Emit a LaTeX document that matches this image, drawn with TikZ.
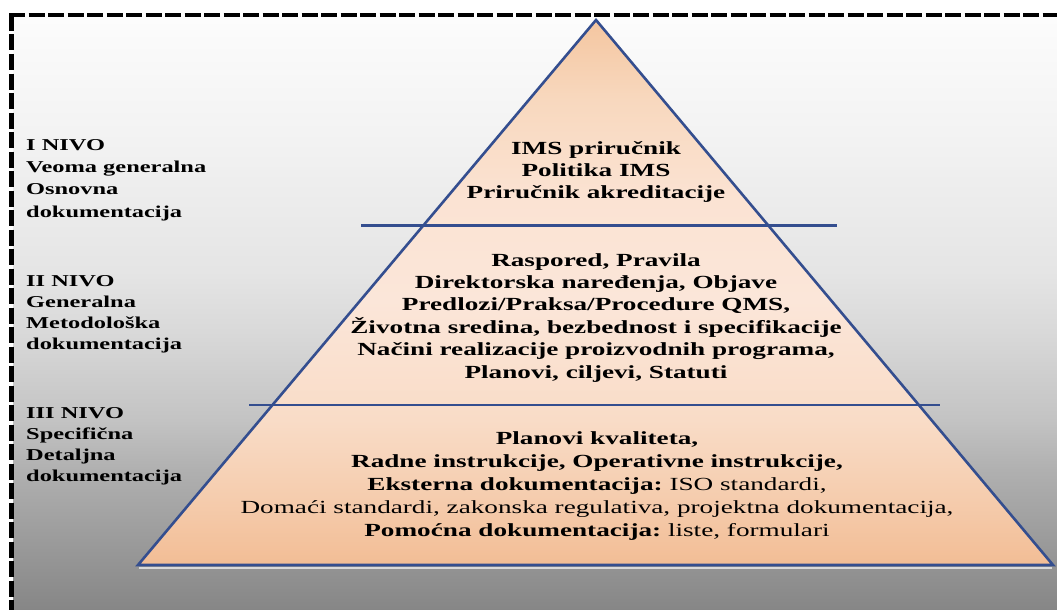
\documentclass[tikz,border=0pt]{standalone}
\usepackage{fontspec}
\setmainfont{Liberation Serif}[FakeStretch=1.47]
\usetikzlibrary{calc}
\frenchspacing

\definecolor{edgeblue}{HTML}{344E8F}
% backdrop greys, top to bottom
\definecolor{bgA}{HTML}{FCFCFC}
\definecolor{bgB}{HTML}{F3F3F3}
\definecolor{bgC}{HTML}{E5E5E5}
\definecolor{bgD}{HTML}{D9D9D9}
\definecolor{bgE}{HTML}{C3C3C3}
\definecolor{bgF}{HTML}{B0B0B0}
\definecolor{bgG}{HTML}{959595}
\definecolor{bgH}{HTML}{868686}
% pyramid peach tones, top to bottom
\definecolor{pyA}{HTML}{F4C6A0}
\definecolor{pyB}{HTML}{F8D8BE}
\definecolor{pyC}{HTML}{FBE3D3}
\definecolor{pyD}{HTML}{FBE6D9}
\definecolor{pyE}{HTML}{F9DCC7}
\definecolor{pyF}{HTML}{F5CCAD}
\definecolor{pyG}{HTML}{F2BD95}

\pgfdeclareverticalshading{backdrop}{100bp}{
  color(0bp)=(bgH); color(25bp)=(bgH); color(29.2bp)=(bgG);
  color(36.8bp)=(bgF); color(41bp)=(bgE); color(48.5bp)=(bgD);
  color(53.6bp)=(bgC); color(65.3bp)=(bgB); color(75bp)=(bgA);
  color(100bp)=(bgA)}
\pgfdeclareverticalshading{pyramid}{100bp}{
  color(0bp)=(pyG); color(25bp)=(pyG); color(31bp)=(pyF);
  color(38.3bp)=(pyE); color(49.3bp)=(pyD); color(58.5bp)=(pyC);
  color(67.7bp)=(pyB); color(75bp)=(pyA); color(100bp)=(pyA)}

\tikzset{
  frame/.style={line width=4.5pt, dash pattern=on 16pt off 3.5pt, line cap=butt},
  edge/.style={draw=edgeblue, line width=2.6pt, line join=miter},
  divider/.style={draw=edgeblue, line width=2.6pt},
  lvltext/.style={anchor=north, align=center, inner sep=0pt},
  sidetext/.style={anchor=north west, align=left, inner sep=0pt,
    font=\bfseries\fontsize{16.6}{21.2}\selectfont},
}

\begin{document}
\begin{tikzpicture}[x=1pt,y=1pt]
\useasboundingbox (0,0) rectangle (1057,-610);
\fill[white] (0,0) rectangle (1057,-610);

% shaded backdrop inside the dashed frame
\shade[shading=backdrop] (13.5,-17) rectangle (1057,-610);

% dashed frame (top and left edges)
\coordinate (fc) at (11.5,-15);
\draw[frame] (9.2,-15) -- (1057,-15);
\draw[frame] (fc) -- (11.5,-610);

% pyramid
\coordinate (apex) at (596,-20);
\coordinate (br) at (1053,-565);
\coordinate (bl) at (138,-565);
\draw[gray!30, line width=2pt] ($(bl)+(1,-2.8)$) -- ($(br)+(-1,-2.8)$);
\shade[shading=pyramid] (apex) -- (br) -- (bl) -- cycle;
\draw[edge] (apex) -- (br) -- (bl) -- cycle;

% level dividers
\coordinate (d1a) at (361,-225.5);
\coordinate (d1b) at (837,-225.5);
\coordinate (d2a) at (249,-405);
\coordinate (d2b) at (940,-405);
\draw[divider] (d1a) -- (d1b);
\draw[divider] (d2a) -- (d2b);

% pyramid contents
\node[lvltext, font=\bfseries\fontsize{18.5}{22}\selectfont] (lvl1) at (596,-141)
  {IMS priručnik\\Politika IMS\\Priručnik akreditacije};
\node[lvltext, font=\bfseries\fontsize{18.5}{22.4}\selectfont] (lvl2) at (596,-253)
  {Raspored, Pravila\\Direktorska naređenja, Objave\\Predlozi/Praksa/Procedure QMS,\\Životna sredina, bezbednost i specifikacije\\Načini realizacije proizvodnih programa,\\Planovi, ciljevi, Statuti};
\node[lvltext, font=\fontsize{18.5}{23.2}\selectfont] (lvl3) at (597,-431)
  {\textbf{Planovi kvaliteta,}\\\textbf{Radne instrukcije, Operativne instrukcije,}\\\textbf{Eksterna dokumentacija:} ISO standardi,\\Domaći standardi, zakonska regulativa, projektna dokumentacija,\\\textbf{Pomoćna dokumentacija:} liste, formulari};

% level labels on the left
\node[sidetext, font=\bfseries\fontsize{16.6}{22.3}\selectfont] (side1) at (26,-139)
  {I NIVO\\Veoma generalna\\Osnovna\\dokumentacija};
\node[sidetext] (side2) at (26,-275)
  {II NIVO\\Generalna\\Metodološka\\dokumentacija};
\node[sidetext] (side3) at (26,-407)
  {III NIVO\\Specifična\\Detaljna\\dokumentacija};
\end{tikzpicture}
\end{document}
